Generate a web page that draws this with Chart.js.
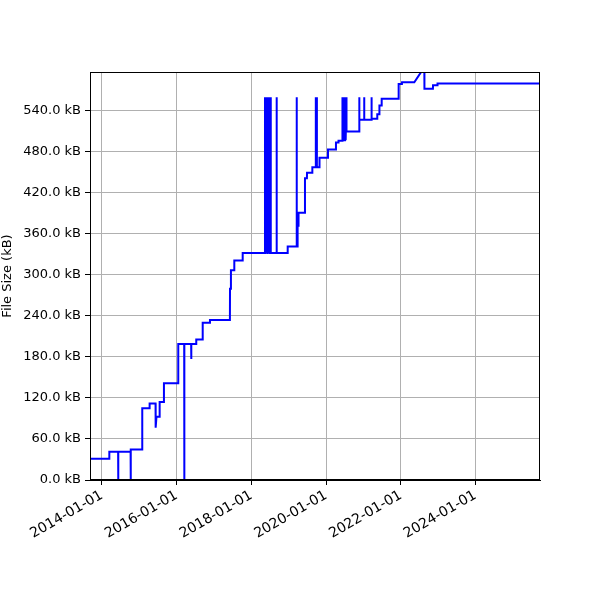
<!DOCTYPE html>
<html><head><meta charset="utf-8">
<script src="https://cdn.jsdelivr.net/npm/chart.js@4.4.1/dist/chart.umd.min.js"></script>
<style>html,body{margin:0;padding:0;background:#fff}#wrap{width:600px;height:600px}</style>
</head><body><div id="wrap"><canvas id="c" width="600" height="600"></canvas></div>
<script>
const dates = [
'2013-09-06','2014-03-13','2014-03-14','2014-06-08','2014-06-09','2014-06-10','2014-10-08','2014-10-09','2014-10-10',
'2015-01-29','2015-01-30','2015-04-11','2015-04-12','2015-06-09','2015-06-10','2015-06-18','2015-07-18','2015-07-19',
'2015-08-29','2015-08-30','2016-01-16','2016-01-17','2016-03-15','2016-03-16','2016-03-17','2016-05-22','2016-05-23',
'2016-05-24','2016-07-10','2016-07-11','2016-09-11','2016-09-12','2016-11-21','2016-11-22','2017-06-05','2017-06-06',
'2017-06-15','2017-07-17','2017-07-18','2017-10-07','2017-10-08','2018-05-13','2018-05-14','2018-05-21','2018-05-28',
'2018-06-04','2018-06-11','2018-06-18','2018-06-25','2018-07-02','2018-07-09','2018-07-10','2018-09-04','2018-09-05',
'2018-09-06','2018-12-21','2018-12-22','2019-03-19','2019-03-20','2019-03-21','2019-03-28','2019-03-29','2019-04-06',
'2019-04-07','2019-06-08','2019-06-09','2019-06-28','2019-06-29','2019-08-19','2019-08-20','2019-09-22','2019-09-23',
'2019-09-28','2019-10-03','2019-10-04','2019-10-28','2019-10-29','2020-01-19','2020-01-20','2020-04-06','2020-04-07',
'2020-05-01','2020-05-02','2020-06-05','2020-06-06','2020-06-13','2020-06-20','2020-06-27','2020-07-04','2020-07-11',
'2020-07-18','2020-07-19','2020-11-20','2020-11-21','2020-11-22','2021-01-07','2021-01-08','2021-01-09','2021-03-20',
'2021-03-21','2021-03-22','2021-05-15','2021-05-16','2021-06-05','2021-06-06','2021-06-27','2021-06-28','2021-12-10',
'2021-12-11','2022-01-12','2022-01-13','2022-05-13','2022-08-19','2022-08-20','2022-11-11','2022-11-12','2022-12-25',
'2022-12-26','2025-09-23'
];
const sizesKB = [
31,31,41.5,41.5,0,41.5,41.5,0,44.5,
44.5,105,105,112,112,76.5,92.5,92.5,114,
114,141.5,141.5,199,199,0,199,199,177,
199,199,205.5,205.5,230,230,234,234,280,
307,307,321,321,332,332,560,332,560,
332,560,332,560,332,560,332,332,560,
332,332,341.5,341.5,560,341.5,341.5,372,372,
391,391,441.5,441.5,449.5,449.5,457.5,457.5,560,
457.5,560,457.5,457.5,471.5,471.5,483.5,483.5,494,
494,496.5,496.5,560,497,560,497,560,497,
560,510,510,560,527,527,560,527,527,
560,528.5,528.5,535,535,548,548,558,558,
579.5,579.5,582,582,604,572.5,572.5,577.5,577.5,
580,580
];
const xTickLabels = ['2014-01-01','2016-01-01','2018-01-01','2020-01-01','2022-01-01','2024-01-01'];
const yTickValues = [0,60,120,180,240,300,360,420,480,540];
const xRange = ['2013-09-06','2025-09-23'];
const yRange = [0,597];

const points = dates.map((d,i)=>({x: Date.parse(d), y: sizesKB[i]}));
const FONT = {family:'"DejaVu Sans", sans-serif', size:13};
const XFONT = {family:'"DejaVu Sans", sans-serif', size:14};

const framePlugin = {
  id:'frame',
  afterDraw(chart){
    const {ctx, chartArea:a} = chart;
    ctx.save();
    ctx.strokeStyle='#000'; ctx.lineWidth=1;
    ctx.strokeRect(Math.round(a.left)+0.5, Math.round(a.top)+0.5, Math.round(a.right-a.left)-1, Math.round(a.bottom-a.top)-1);
    ctx.restore();
  }
};

new Chart(document.getElementById('c'), {
  type:'line',
  data:{datasets:[{data:points, borderColor:'#0000ff', borderWidth:2, pointRadius:0, tension:0, fill:false, clip:0}]},
  options:{
    responsive:false, animation:false, devicePixelRatio:1,
    layout:{padding:{top:72,right:60,left:0,bottom:0}},
    plugins:{legend:{display:false}, tooltip:{enabled:false}},
    scales:{
      x:{type:'linear', min:Date.parse(xRange[0]), max:Date.parse(xRange[1]),
        afterBuildTicks(s){ s.ticks = xTickLabels.map(t=>({value:Date.parse(t)})); },
        afterFit(s){ s.height = 120; },
        ticks:{autoSkip:false, maxRotation:30, minRotation:30, color:'#000', font:XFONT, padding:2,
          callback(v,i){ return xTickLabels[i]; }},
        grid:{color:'#b0b0b0', lineWidth:1, tickColor:'#000', tickLength:5, drawTicks:true},
        border:{color:'#000', width:1}
      },
      y:{type:'linear', min:yRange[0], max:yRange[1],
        afterBuildTicks(s){ s.ticks = yTickValues.map(v=>({value:v})); },
        afterFit(s){ s.width = 90; },
        ticks:{color:'#000', font:FONT, padding:4, callback(v){ return v.toFixed(1)+' kB'; }},
        title:{display:true, text:'File Size (kB)', color:'#000', font:FONT, padding:{top:0,bottom:0}},
        grid:{color:'#b0b0b0', lineWidth:1, tickColor:'#000', tickLength:5, drawTicks:true},
        border:{color:'#000', width:1}
      }
    }
  },
  plugins:[framePlugin]
});
</script>
</body></html>
